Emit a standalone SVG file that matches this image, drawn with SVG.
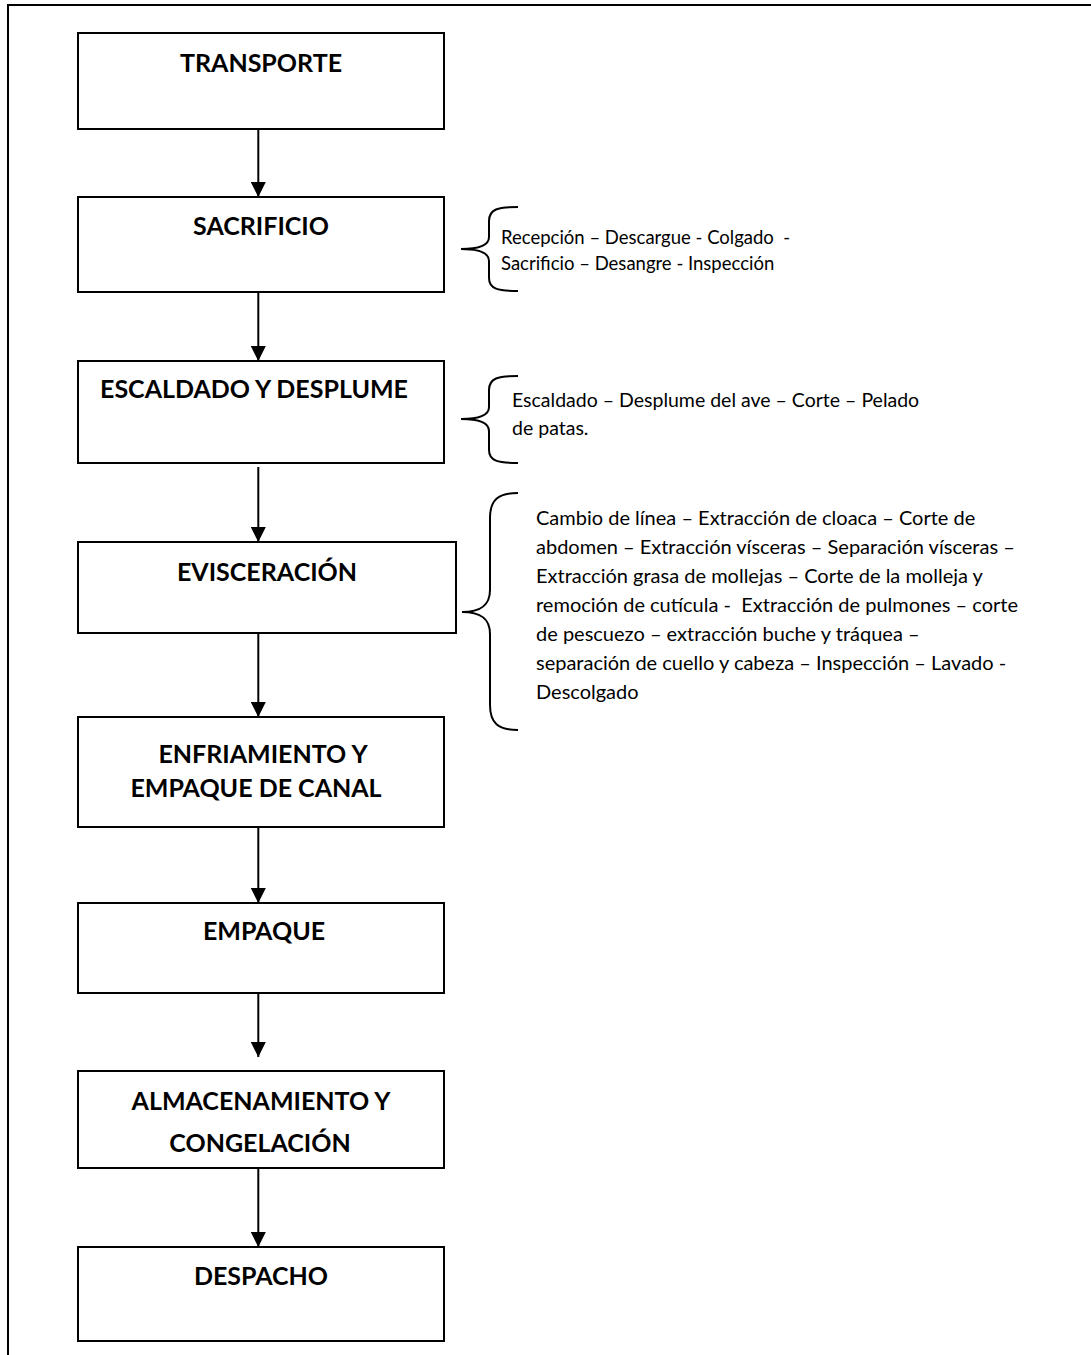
<svg xmlns="http://www.w3.org/2000/svg" width="1091" height="1355" viewBox="0 0 1091 1355">
  <style>
    .box { fill: #ffffff; stroke: #000000; stroke-width: 2; }
    .lbl { font-family: Lato, "Liberation Sans", sans-serif; font-weight: bold; font-size: 25px; fill: #000000; text-anchor: middle; }
    .note { font-family: Lato, "Liberation Sans", sans-serif; font-size: 18.5px; fill: #000000; white-space: pre; }
    .note2 { font-size: 19.5px; }
    .note3 { font-size: 20px; }
    .edge { stroke: #000000; stroke-width: 2; fill: none; marker-end: url(#head); }
    .brace { stroke: #000000; stroke-width: 2; fill: none; }
    .frame { stroke: #000000; stroke-width: 2; fill: none; }
  </style>
  <defs>
    <marker id="head" viewBox="0 0 15 15" refX="15" refY="7.5" markerWidth="15" markerHeight="15" markerUnits="userSpaceOnUse" orient="auto">
      <path d="M0,0 L15,7.5 L0,15 Z" fill="#000000"/>
    </marker>
  </defs>
  <rect width="1091" height="1355" fill="#ffffff"/>

  <!-- page frame: top and left rules -->
  <g id="frame">
    <path class="frame" d="M8,1355 L8,5 L1091,5"/>
  </g>

  <!-- process steps -->
  <g id="transporte">
    <rect class="box" x="78" y="33" width="366" height="96"/>
    <text class="lbl" x="261" y="72">TRANSPORTE</text>
  </g>
  <g id="sacrificio">
    <rect class="box" x="78" y="197" width="366" height="95"/>
    <text class="lbl" x="261" y="235">SACRIFICIO</text>
  </g>
  <g id="escaldado">
    <rect class="box" x="78" y="361" width="366" height="102"/>
    <text class="lbl" x="254" y="398">ESCALDADO Y DESPLUME</text>
  </g>
  <g id="evisceracion">
    <rect class="box" x="78" y="542" width="378" height="91"/>
    <text class="lbl" x="267" y="581">EVISCERACIÓN</text>
  </g>
  <g id="enfriamiento">
    <rect class="box" x="78" y="717" width="366" height="110"/>
    <text class="lbl" x="263" y="763">ENFRIAMIENTO Y</text>
    <text class="lbl" x="256" y="797">EMPAQUE DE CANAL</text>
  </g>
  <g id="empaque">
    <rect class="box" x="78" y="903" width="366" height="90"/>
    <text class="lbl" x="264" y="940">EMPAQUE</text>
  </g>
  <g id="almacenamiento">
    <rect class="box" x="78" y="1071" width="366" height="97"/>
    <text class="lbl" x="261" y="1110">ALMACENAMIENTO Y</text>
    <text class="lbl" x="260" y="1152">CONGELACIÓN</text>
  </g>
  <g id="despacho">
    <rect class="box" x="78" y="1247" width="366" height="94"/>
    <text class="lbl" x="261" y="1285">DESPACHO</text>
  </g>

  <!-- flow arrows -->
  <g id="connectors">
    <line class="edge" x1="258.3" y1="129" x2="258.3" y2="197"/>
    <line class="edge" x1="258.3" y1="292" x2="258.3" y2="361"/>
    <line class="edge" x1="258.3" y1="467" x2="258.3" y2="542"/>
    <line class="edge" x1="258.3" y1="633" x2="258.3" y2="717"/>
    <line class="edge" x1="258.3" y1="827" x2="258.3" y2="903"/>
    <line class="edge" x1="258.3" y1="993" x2="258.3" y2="1057"/>
    <line class="edge" x1="258.3" y1="1168" x2="258.3" y2="1247"/>
  </g>

  <!-- detail notes with braces -->
  <g id="nota-sacrificio">
    <path class="brace" d="M518,207 C498,207 489,209 489,221 L489,237 C489,246 478,249 461,249 C478,249 489,252 489,261 L489,278 C489,289 498,291 518,291"/>
    <text class="note" x="501" y="243.5" xml:space="preserve">Recepción – Descargue - Colgado  -</text>
    <text class="note" x="501" y="270">Sacrificio – Desangre - Inspección</text>
  </g>
  <g id="nota-escaldado">
    <path class="brace" d="M518,376 C498,376 489,378 489,390 L489,407 C489,416 478,419 461,419 C478,419 489,422 489,431 L489,450 C489,461 498,463 518,463"/>
    <text class="note note2" x="512" y="406.5">Escaldado – Desplume del ave – Corte – Pelado</text>
    <text class="note note2" x="512" y="435">de patas.</text>
  </g>
  <g id="nota-evisceracion">
    <path class="brace" d="M518,493 C498,493 490,500 490,518 L490,590 C490,606 480,612 462,612 C480,612 490,618 490,634 L490,705 C490,723 498,730 518,730"/>
    <text class="note note3" x="536" y="524.5">Cambio de línea – Extracción de cloaca – Corte de</text>
    <text class="note note3" x="536" y="553.5">abdomen – Extracción vísceras – Separación vísceras –</text>
    <text class="note note3" x="536" y="582.5">Extracción grasa de mollejas – Corte de la molleja y</text>
    <text class="note note3" x="536" y="611.5" xml:space="preserve">remoción de cutícula -  Extracción de pulmones – corte</text>
    <text class="note note3" x="536" y="640.5">de pescuezo – extracción buche y tráquea –</text>
    <text class="note note3" x="536" y="669.5">separación de cuello y cabeza – Inspección – Lavado -</text>
    <text class="note note3" x="536" y="698.5">Descolgado</text>
  </g>
</svg>
